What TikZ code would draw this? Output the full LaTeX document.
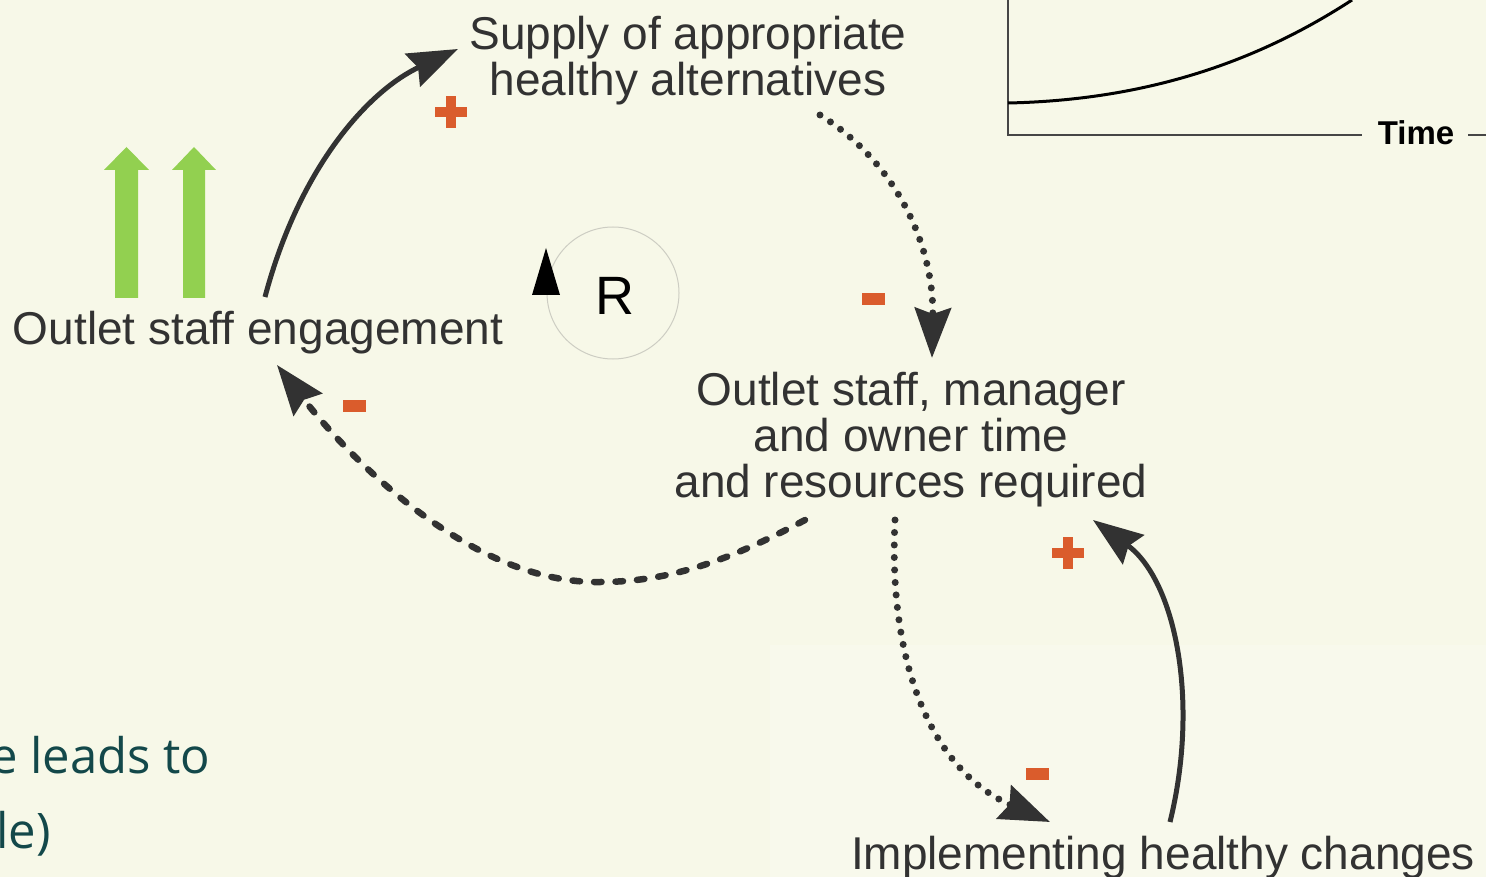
\documentclass[tikz,border=0pt]{standalone}
\usepackage{fontspec}
\setmainfont{Liberation Sans}
\newfontfamily\bodyfont{Open Sans}
\usetikzlibrary{arrows.meta}
\definecolor{paper}{RGB}{247,248,232}
\definecolor{paperlight}{RGB}{248,249,236}
\definecolor{ink}{RGB}{50,50,50}
\definecolor{signorange}{RGB}{218,92,44}
\definecolor{upgreen}{RGB}{146,208,80}
\definecolor{bodyteal}{RGB}{19,72,74}
\definecolor{loopgrey}{RGB}{205,205,195}
\definecolor{axisgrey}{RGB}{70,70,70}

\begin{document}
\begin{tikzpicture}[x=1pt,y=-1pt,
  var/.style={text=ink, font=\fontsize{46}{46}\selectfont, align=center, inner sep=0pt},
  bighead/.style={-{Stealth[length=50pt,width=36pt,inset=6pt]}},
  solidlink/.style={draw=ink, line width=5pt, bighead},
  dotlink/.style={draw=ink, line width=7pt, line cap=round, dash pattern=on 0pt off 12.5pt, bighead},
  dashlink/.style={draw=ink, line width=6.5pt, line cap=round, dash pattern=on 7.5pt off 14pt, bighead},
  minussign/.style={fill=signorange, inner sep=0pt, minimum width=23pt, minimum height=12pt},
  bodytext/.style={text=bodyteal, font=\bodyfont\fontsize{49}{49}\selectfont, inner sep=0pt, anchor=base west},
]
% page and background
\useasboundingbox (0,0) rectangle (1486,877);
\clip (0,0) rectangle (1486,877);
\fill[paper] (0,0) rectangle (1486,877);
\fill[paperlight] (770,645) rectangle (1486,877);

% growth graph in the corner
\draw[axisgrey, line width=2pt] (1008,0) -- (1008,135) -- (1362,135);
\node[font=\bfseries\fontsize{33}{33}\selectfont, inner sep=0pt] (timelbl) at (1416,133) {Time};
\coordinate (axisend) at (1486,135);
\draw[axisgrey, line width=2pt] (1468,135) -- (axisend);
\draw[black, line width=3pt] (1008,103) .. controls (1150,100) and (1260,60) .. (1352,0);

% variables
\node[var] (supply) at (688,61) {Supply of appropriate\\healthy alternatives};
\node[var] (engage) at (258,333) {Outlet staff engagement};
\node[var] (required) at (911,440) {Outlet staff, manager\\and owner time\\and resources required};
\node[var] (implement) at (1163,858) {Implementing healthy changes};

% reinforcing loop marker
\draw[loopgrey, line width=1pt] (613,293) circle[radius=66];
\fill[black] (546,248) -- (560,295) -- (532,295) -- cycle;
\node[font=\fontsize{54}{54}\selectfont, inner sep=0pt] (loopR) at (615,296) {R};

% rising arrows
\fill[upgreen] (115,298) -- (115,170) -- (104,170) -- (126.5,147) -- (149,170) -- (138,170) -- (138,298) -- cycle;
\fill[upgreen] (183,298) -- (183,170) -- (172,170) -- (194,147) -- (216,170) -- (205,170) -- (205,298) -- cycle;

% connector end points
\coordinate (e1) at (265,297);
\coordinate (s1) at (458,49);
\coordinate (s2) at (820,115);
\coordinate (r1) at (932,358);
\coordinate (r2) at (805,520);
\coordinate (e2) at (277,365);
\coordinate (r3) at (895,520);
\coordinate (i1) at (1050,822);
\coordinate (i2) at (1170,822);
\coordinate (r4) at (1093,520);

% causal links
\draw[solidlink] (e1) .. controls (300,165) and (370,90) .. (s1);
\draw[dotlink] (s2) .. controls (900,165) and (934,250) .. (r1);
\draw[dashlink] (r2) .. controls (730,560) and (670,582) .. (600,582)
                     .. controls (475,584) and (355,465) .. (e2);
\draw[dotlink] (r3) .. controls (888,660) and (930,770) .. (i1);
\draw[solidlink] (i2) .. controls (1200,700) and (1175,580) .. (r4);

% polarity signs
\fill[signorange] (446,96) rectangle (456,128);
\fill[signorange] (435,107) rectangle (467,117);
\fill[signorange] (1063,537) rectangle (1073,569);
\fill[signorange] (1052,548) rectangle (1084,558);
\node[minussign] (m1) at (873.5,299.5) {};
\node[minussign] (m2) at (354.5,406) {};
\node[minussign] (m3) at (1037.5,773.5) {};

% text running in from the left
\node[bodytext] (line1) at (-10,773) {e leads to};
\node[bodytext] (line2) at (-4,848) {le)};
\end{tikzpicture}
\end{document}
